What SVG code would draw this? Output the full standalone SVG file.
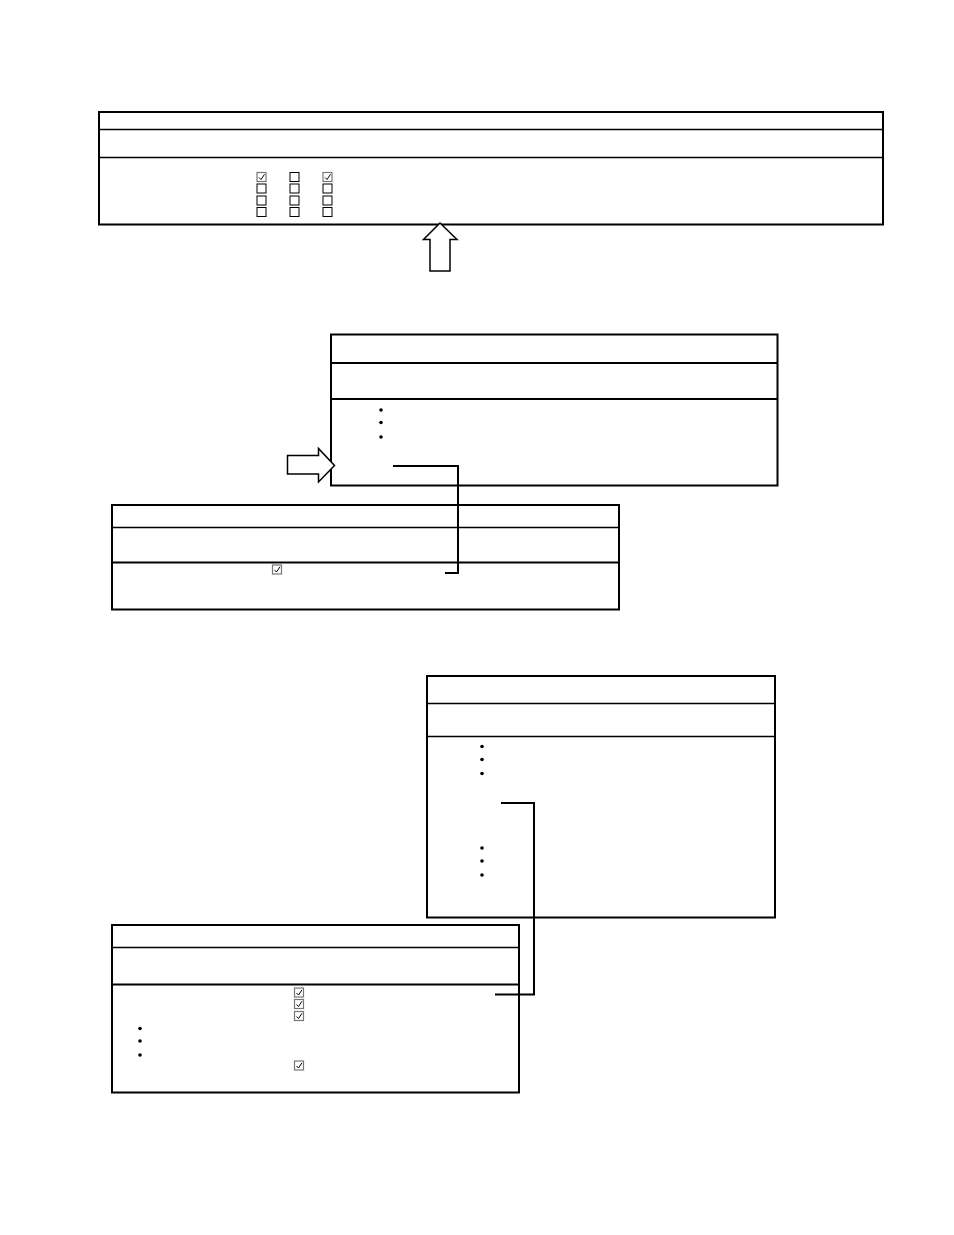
<svg xmlns="http://www.w3.org/2000/svg" width="954" height="1235" viewBox="0 0 954 1235">
<style>
.frame{fill:#fff;stroke:#000;stroke-width:2}
.div{stroke:#000;stroke-width:1.6;fill:none}
.div2{stroke:#000;stroke-width:2.2;fill:none}
.cb{fill:#fff;stroke:#000;stroke-width:1}
.cbc{fill:#fff;stroke:#777;stroke-width:1.2}
.chk{fill:none;stroke:#000;stroke-width:1}
.bul{fill:#000}
.arrow{fill:#fff;stroke:#000;stroke-width:1.5}
.conn{fill:none;stroke:#000;stroke-width:2}
</style>
<defs>
<g id="cbChecked"><rect class="cbc" x="0" y="0" width="9" height="9"/><path class="chk" d="M2,5 L4,7 L7.5,1.8"/></g>
<rect id="cbEmpty" class="cb" x="0" y="0" width="9" height="9"/>
<circle id="dot" class="bul" r="1.8"/>
</defs>
<rect width="954" height="1235" fill="#fff"/>

<g id="box1">
<rect class="frame" x="99" y="112" width="784" height="112.5"/>
<line class="div" x1="99" y1="129.5" x2="883" y2="129.5"/>
<line class="div" x1="99" y1="157.5" x2="883" y2="157.5"/>
<use href="#cbChecked" x="257" y="172.5"/>
<use href="#cbEmpty" x="257" y="184"/>
<use href="#cbEmpty" x="257" y="196"/>
<use href="#cbEmpty" x="257" y="207.5"/>
<use href="#cbEmpty" x="290" y="172.5"/>
<use href="#cbEmpty" x="290" y="184"/>
<use href="#cbEmpty" x="290" y="196"/>
<use href="#cbEmpty" x="290" y="207.5"/>
<use href="#cbChecked" x="323" y="172.5"/>
<use href="#cbEmpty" x="323" y="184"/>
<use href="#cbEmpty" x="323" y="196"/>
<use href="#cbEmpty" x="323" y="207.5"/>
</g>

<g id="arrowUp">
<path class="arrow" d="M440,223 L457,239.5 L450,239.5 L450,271 L430,271 L430,239.5 L423.5,239.5 Z"/>
</g>

<g id="box2">
<rect class="frame" x="331" y="334.5" width="446.5" height="151"/>
<line class="div2" x1="331" y1="363" x2="777.5" y2="363"/>
<line class="div2" x1="331" y1="399" x2="777.5" y2="399"/>
<use href="#dot" x="381" y="410"/>
<use href="#dot" x="381" y="422.5"/>
<use href="#dot" x="381" y="437"/>
</g>

<g id="arrowRight">
<path class="arrow" d="M287.5,455.5 L318.5,455.5 L318.5,448.5 L334.5,465.5 L318.5,482 L318.5,474 L287.5,474 Z"/>
</g>

<g id="box3">
<rect class="frame" x="112" y="505" width="507" height="104.5"/>
<line class="div" x1="112" y1="527.5" x2="619" y2="527.5"/>
<line class="div2" x1="112" y1="562.5" x2="619" y2="562.5"/>
<use href="#cbChecked" x="272.5" y="565"/>
</g>

<g id="box4">
<rect class="frame" x="427" y="676" width="348" height="241.5"/>
<line class="div" x1="427" y1="703.5" x2="775" y2="703.5"/>
<line class="div" x1="427" y1="736.5" x2="775" y2="736.5"/>
<use href="#dot" x="482" y="746.5"/>
<use href="#dot" x="482" y="759.5"/>
<use href="#dot" x="482" y="773.5"/>
<use href="#dot" x="482" y="848"/>
<use href="#dot" x="482" y="861"/>
<use href="#dot" x="482" y="875"/>
</g>

<g id="box5">
<rect class="frame" x="112" y="925" width="407" height="167.5"/>
<line class="div" x1="112" y1="947.5" x2="519" y2="947.5"/>
<line class="div2" x1="112" y1="984.5" x2="519" y2="984.5"/>
<use href="#cbChecked" x="294.5" y="988"/>
<use href="#cbChecked" x="294.5" y="999.5"/>
<use href="#cbChecked" x="294.5" y="1011.5"/>
<use href="#cbChecked" x="294.5" y="1061"/>
<use href="#dot" x="140" y="1028.5"/>
<use href="#dot" x="140" y="1041"/>
<use href="#dot" x="140" y="1055"/>
</g>

<g id="connectors">
<path class="conn" d="M393,466 H458 V573 H445"/>
<path class="conn" d="M501,803 H534 V994.5 H495"/>
</g>
</svg>
